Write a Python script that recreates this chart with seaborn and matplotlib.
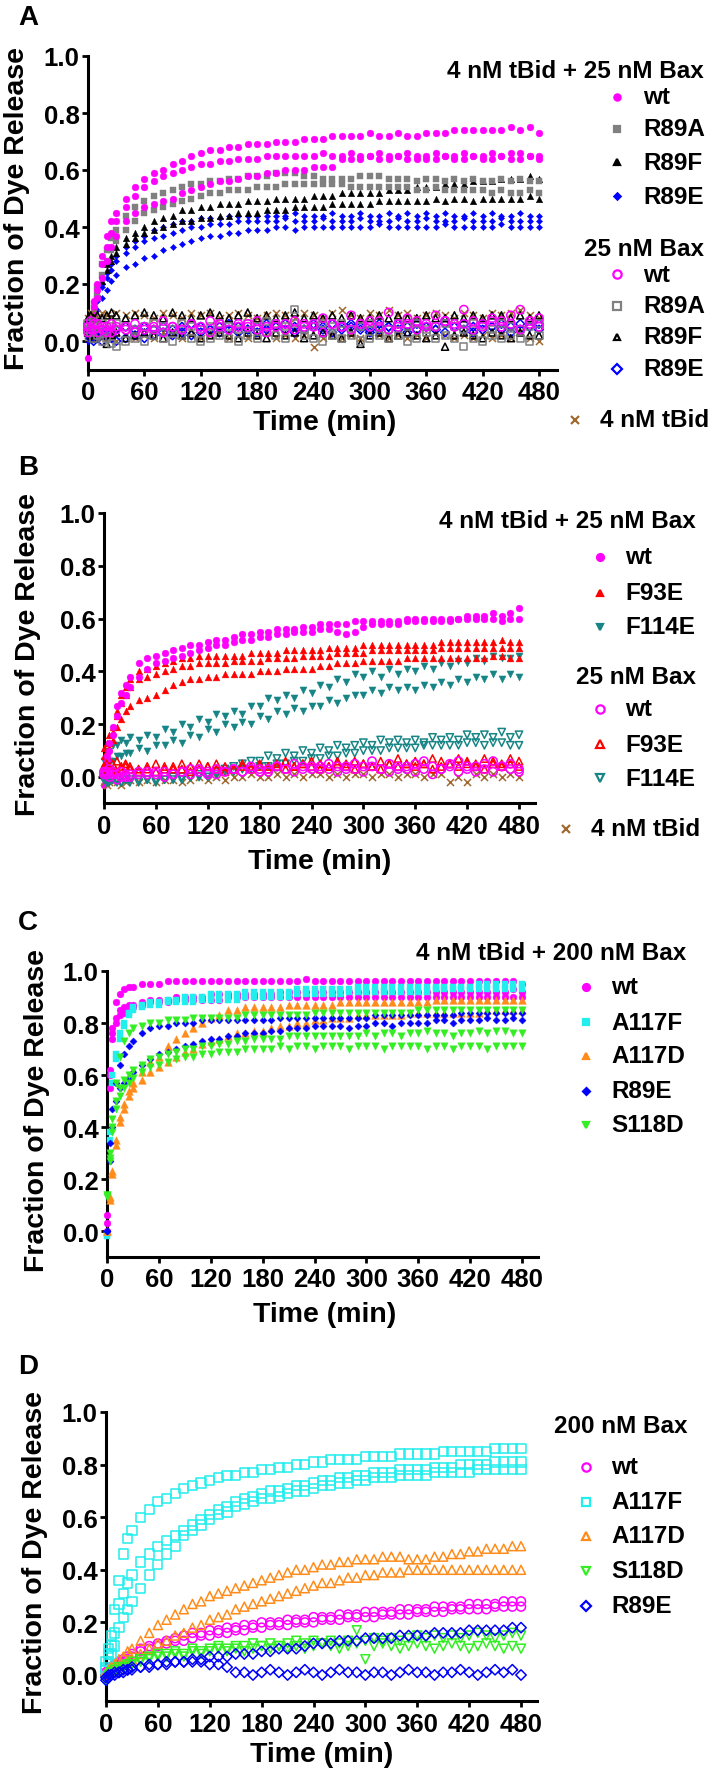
import matplotlib
matplotlib.use("Agg")
import matplotlib.pyplot as plt
from matplotlib.lines import Line2D
import seaborn as sns

sns.set_theme(style="ticks")
plt.rcParams["font.family"] = ["Liberation Sans", "DejaVu Sans"]
plt.rcParams["font.weight"] = "bold"
for k in ["text.color", "axes.labelcolor", "xtick.color", "ytick.color", "axes.edgecolor"]:
    plt.rcParams[k] = "black"

# sampling times (min), shared by every trace
time_min = [0, 3, 6, 10, 15, 20, 25, 30, 40, 50] + list(range(60, 481, 10))

# ---- panel A : 4 nM tBid + 25 nM Bax (values in % dye release) ----
A_wt_1 = [3, 8, 14, 20, 30, 37, 42, 45, 50, 54, 57, 59, 60, 62, 63, 65, 66, 67, 67, 68,
          68, 69, 69, 69, 70, 70, 70, 71, 71, 71, 72, 72, 72, 72, 73, 72, 72, 73, 72, 72,
          73, 73, 73, 74, 74, 74, 74, 74, 74, 75, 74, 75, 73]
A_wt_2 = [2, 6, 12, 18, 27, 33, 38, 42, 47, 51, 54, 56, 58, 59, 60, 61, 62, 62, 63, 63,
          64, 64, 64, 65, 65, 65, 65, 65, 65, 66, 65, 65, 66, 65, 65, 66, 65, 65, 66, 65,
          65, 66, 65, 65, 66, 65, 65, 66, 65, 66, 66, 65, 65]
A_wt_3 = [-6, 4, 9, 15, 22, 28, 33, 37, 42, 45, 47, 48, 49, 50, 52, 53, 54, 55, 56, 56,
          57, 58, 58, 59, 59, 60, 60, 60, 61, 61, 61, 64, 64, 64, 65, 64, 64, 65, 64, 64,
          64, 64, 65, 64, 64, 65, 64, 64, 65, 64, 64, 65, 64]
A_R89A_1 = [2, 7, 13, 19, 27, 32, 36, 39, 44, 47, 49, 51, 52, 53, 54, 55, 55, 56, 56, 57,
            57, 58, 58, 58, 59, 59, 59, 58, 58, 57, 57, 57, 57, 58, 58, 58, 57, 57, 57, 56,
            57, 57, 56, 57, 56, 57, 56, 56, 57, 56, 57, 56, 56]
A_R89A_2 = [1, 6, 11, 16, 23, 28, 32, 35, 39, 42, 45, 46, 47, 48, 49, 50, 51, 52, 52, 53,
            53, 53, 54, 54, 54, 55, 55, 55, 55, 55, 55, 55, 54, 54, 54, 54, 54, 54, 54, 53,
            53, 54, 53, 53, 53, 53, 53, 52, 53, 52, 52, 53, 52]
A_R89F_1 = [2, 6, 11, 17, 23, 27, 30, 33, 36, 38, 40, 42, 43, 44, 46, 46, 47, 47, 48, 48,
            48, 49, 49, 49, 50, 50, 50, 50, 51, 51, 51, 52, 52, 52, 52, 52, 53, 53, 53, 54,
            54, 54, 55, 55, 55, 56, 56, 56, 57, 57, 57, 58, 57]
A_R89F_2 = [1, 5, 10, 16, 21, 25, 28, 31, 34, 36, 38, 39, 40, 41, 42, 42, 43, 43, 44, 44,
            45, 45, 45, 46, 46, 46, 47, 47, 47, 47, 48, 48, 48, 48, 48, 49, 49, 49, 49, 49,
            49, 50, 49, 50, 50, 49, 50, 50, 50, 50, 50, 51, 50]
A_R89E_1 = [1, 5, 10, 15, 20, 24, 27, 30, 33, 35, 37, 39, 40, 41, 42, 42, 43, 43, 43, 44,
            44, 44, 44, 44, 44, 44, 45, 44, 44, 44, 45, 44, 44, 45, 44, 44, 45, 44, 45, 44,
            45, 44, 45, 44, 44, 45, 44, 45, 44, 44, 45, 44, 44]
A_R89E_2 = [0, 4, 9, 14, 19, 22, 25, 28, 31, 33, 35, 36, 37, 38, 39, 40, 40, 41, 41, 41,
            42, 42, 42, 42, 42, 43, 42, 42, 42, 43, 42, 42, 42, 43, 42, 42, 42, 43, 42, 42,
            43, 42, 42, 42, 43, 42, 42, 42, 43, 42, 42, 42, 42]
A_R89E_3 = [0, 3, 7, 11, 15, 18, 21, 23, 26, 27, 29, 30, 32, 33, 34, 35, 36, 37, 37, 38,
            38, 39, 39, 39, 40, 40, 39, 40, 40, 40, 40, 40, 40, 40, 40, 41, 40, 40, 40, 40,
            40, 40, 41, 40, 40, 40, 40, 40, 41, 40, 40, 40, 40]
# panel A : 25 nM Bax alone, and 4 nM tBid alone
A_bax_wt_1 = [5, 7, 4, 6, 5, 3, 6, 4, 5, 6, 4, 5, 7, 5, 4, 6, 5, 7, 6, 4,
              5, 6, 7, 5, 6, 4, 7, 5, 6, 8, 6, 5, 9, 6, 7, 5, 10, 6, 8, 7,
              5, 9, 7, 6, 11, 7, 6, 8, 7, 9, 11, 7, 8]
A_bax_wt_2 = [3, 4, 6, 3, 4, 5, 3, 5, 4, 3, 5, 4, 3, 5, 4, 6, 4, 3, 5, 4,
              6, 5, 4, 3, 5, 6, 4, 6, 5, 3, 6, 5, 4, 6, 5, 7, 4, 5, 6, 4,
              6, 5, 7, 5, 6, 4, 5, 7, 5, 6, 4, 6, 5]
A_bax_R89A_1 = [4, 3, 1, 2, 0, 1, -1, -2, 0, 1, 0, 2, 1, 0, 2, 1, 0, 1, 2, 1,
                0, 2, 1, 3, 2, 1, 11, 2, 1, 0, 2, 1, 2, 0, 1, 2, 1, 2, 0, 1,
                3, 1, 2, 1, -2, 1, 0, 2, 1, 2, 1, 0, 2]
A_bax_R89A_2 = [6, 5, 7, 5, 6, 4, 5, 6, 5, 4, 5, 6, 5, 4, 6, 5, 4, 5, 6, 5,
                4, 6, 5, 7, 6, 5, 6, 4, 5, 6, 5, 6, 4, 5, 6, 5, 4, 6, 5, 6,
                4, 5, 6, 5, 4, 6, 5, 4, 6, 5, 4, 5, 6]
A_bax_R89F_1 = [8, 9, 8, 9, 8, 9, 10, 9, 8, 9, 10, 9, 8, 10, 9, 8, 9, 10, 9, 8,
                9, 10, 8, 9, 8, 9, 10, 8, 9, 8, 9, 8, 9, 8, 8, 9, 8, 9, 8, 8,
                9, 8, 8, 9, 8, 9, 8, 9, 9, 8, 9, 8, 9]
A_bax_R89F_2 = [3, 2, 1, 3, 2, -1, 2, 3, 1, 2, 3, 2, 1, 3, 2, 3, 1, 2, 3, 2,
                1, 3, 2, 1, 3, 2, 3, 1, 2, 3, 2, 1, 3, -1, 2, 3, 1, 2, 3, 2,
                1, 2, -2, 2, 3, 2, 1, 3, 2, 1, 3, 2, 2]
A_bax_R89E_1 = [6, 1, 0, 1, 0, 2, 1, 0, 1, 2, 1, 2, 3, 2, 3, 2, 3, 4, 3, 4,
                3, 4, 3, 4, 5, 4, 3, 4, 5, 4, 3, 4, 5, 4, 3, 4, 5, 4, 3, 4,
                5, 4, 3, 5, 4, 3, 4, 5, 4, 3, 4, 5, 4]
A_bax_R89E_2 = [4, 3, 1, 2, 3, 4, 3, 4, 5, 4, 5, 4, 5, 4, 5, 6, 5, 4, 5, 6,
                5, 4, 5, 6, 5, 6, 5, 4, 6, 5, 6, 5, 6, 5, 4, 6, 5, 6, 5, 6,
                5, 4, 6, 5, 6, 5, 6, 5, 6, 5, 6, 5, 6]
A_tbid_1 = [8, 10, 9, 8, 10, 9, 8, 10, 9, 10, 9, 8, 10, 9, 8, 10, 9, 10, 8, 9,
            10, 9, 8, 9, 10, 9, 8, 10, 9, 8, 10, 11, 9, 8, 10, 9, 11, 9, 10, 8,
            9, 10, 9, 8, 10, 9, 8, 10, 9, 10, 11, 9, 8]
A_tbid_2 = [2, 1, 3, 2, 1, 2, 1, 0, 2, 1, 2, 1, 3, 2, 1, 2, 1, 2, 3, 1,
            2, 1, 2, 3, 1, 2, 1, 2, -2, 1, 2, 1, 2, 1, 3, 2, 1, 2, 1, 2,
            1, 3, 2, 1, 2, 1, 2, 1, 2, 1, 3, 1, 0]

# ---- panel B ----
B_wt_1 = [1, 8, 13, 19, 27, 32, 35, 38, 43, 45, 46, 47, 48, 49, 50, 50, 51, 52, 52, 53,
          54, 54, 55, 55, 56, 56, 56, 57, 57, 58, 58, 58, 58, 59, 59, 59, 59, 59, 59, 60,
          60, 60, 60, 60, 60, 60, 61, 61, 61, 62, 61, 62, 64]
B_wt_2 = [-3, 6, 10, 16, 23, 28, 31, 34, 38, 41, 43, 44, 45, 46, 47, 48, 49, 50, 50, 51,
          52, 52, 53, 53, 54, 54, 55, 55, 55, 56, 56, 55, 54, 55, 57, 58, 58, 58, 58, 59,
          59, 59, 59, 59, 59, 60, 60, 60, 60, 60, 59, 60, 60]
B_F93E_1 = [11, 13, 16, 19, 25, 31, 34, 37, 40, 41, 42, 43, 44, 45, 45, 46, 46, 46, 46, 46,
            46, 47, 47, 47, 47, 48, 48, 48, 48, 48, 49, 49, 49, 49, 50, 50, 50, 50, 50, 50,
            50, 50, 50, 51, 51, 51, 51, 51, 51, 51, 52, 51, 51]
B_F93E_2 = [8, 10, 13, 17, 23, 28, 31, 34, 37, 38, 39, 40, 41, 42, 42, 43, 43, 43, 43, 44,
            44, 44, 44, 45, 45, 45, 45, 46, 46, 46, 46, 47, 47, 47, 47, 48, 48, 48, 48, 48,
            48, 48, 48, 49, 49, 49, 49, 49, 49, 49, 49, 49, 49]
B_F93E_3 = [5, 8, 11, 14, 19, 22, 25, 27, 29, 30, 31, 33, 35, 36, 37, 37, 38, 38, 39, 39,
            39, 39, 40, 40, 40, 41, 41, 41, 41, 42, 42, 43, 43, 43, 44, 44, 44, 44, 44, 45,
            45, 45, 45, 45, 45, 45, 45, 45, 45, 46, 46, 45, 45]
B_F114E_1 = [6, 9, 10, 12, 12, 14, 13, 15, 14, 16, 15, 18, 17, 20, 19, 22, 21, 24, 23, 25,
             24, 27, 27, 30, 29, 31, 30, 33, 32, 35, 34, 37, 36, 39, 38, 40, 38, 41, 39, 41,
             40, 42, 41, 43, 42, 44, 43, 45, 44, 46, 45, 45, 46]
B_F114E_2 = [3, 4, 6, 6, 8, 8, 9, 9, 11, 10, 12, 12, 14, 13, 16, 15, 18, 17, 20, 19,
             21, 20, 23, 22, 25, 24, 26, 25, 27, 27, 29, 28, 30, 31, 31, 33, 32, 34, 33, 34,
             33, 35, 34, 36, 35, 37, 36, 38, 37, 39, 37, 39, 38]
B_bax_wt_1 = [2, 1, 3, 2, 1, 2, 0, 1, 2, 1, 2, 0, 1, 2, 3, 2, 1, 3, 2, 3,
              2, 4, 3, 2, 4, 3, 5, 3, 4, 3, 5, 4, 3, 5, 4, 6, 3, 5, 4, 3,
              5, 6, 4, 3, 5, 6, 4, 2, 5, 6, 4, 5, 3]
B_bax_wt_2 = [1, 2, 0, 1, -1, 0, 1, 0, 1, 2, 1, 2, 1, 2, 1, 3, 2, 1, 2, 3,
              2, 3, 2, 3, 4, 3, 2, 4, 3, 4, 3, 2, 4, 3, 2, 4, 3, 2, 3, 4,
              2, 3, 1, 3, 4, 2, 3, 4, 3, 2, 4, 3, 2]
B_bax_F93E_1 = [4, 5, 4, 5, 6, 4, 5, 4, 3, 4, 5, 4, 3, 5, 4, 5, 4, 5, 4, 3,
                5, 4, 5, 4, 5, 6, 4, 5, 6, 5, 4, 6, 5, 6, 5, 4, 6, 5, 7, 5,
                6, 5, 7, 6, 5, 7, 6, 5, 7, 6, 5, 7, 6]
B_bax_F93E_2 = [2, 3, 4, 3, 2, 3, 4, 3, 2, 3, 2, 3, 4, 3, 2, 3, 4, 3, 2, 3,
                4, 3, 4, 3, 4, 3, 4, 5, 4, 3, 4, 5, 4, 3, 5, 4, 3, 5, 4, 5,
                4, 5, 3, 4, 5, 4, 5, 4, 3, 5, 4, 5, 4]
B_bax_F114E_1 = [0, -1, 0, -1, -1, -2, -1, -1, -1, -1, -1, -1, 0, 0, 0, 1, 1, 2, 3, 4,
                 5, 6, 6, 8, 7, 9, 8, 10, 9, 11, 10, 12, 11, 12, 13, 12, 14, 13, 14, 13,
                 14, 13, 15, 14, 15, 14, 16, 15, 16, 15, 17, 15, 16]
B_bax_F114E_2 = [-1, -2, -2, -1, -2, -2, -1, -2, -2, -1, -2, -1, -1, -1, 0, 0, 0, 1, 2, 2,
                 3, 3, 4, 4, 5, 5, 6, 6, 7, 7, 8, 8, 9, 9, 10, 10, 10, 11, 11, 11,
                 11, 12, 12, 12, 12, 12, 13, 13, 12, 13, 13, 12, 12]
B_tbid = [-2, -3, -2, -1, -2, -3, -2, -1, -2, -1, -2, -1, -1, -2, -1, 0, -1, 0, -1, 0,
          0, 1, 0, 0, 1, 0, 1, 0, 1, 1, 0, 1, 0, 1, 1, 0, 1, 1, 0, 1,
          1, 0, 1, 1, -2, 0, -2, 1, 0, 1, 0, 1, 0]

# ---- panel C : 4 nM tBid + 200 nM Bax ----
C_wt_1 = [3, 62, 78, 88, 91, 93, 94, 94, 95, 95, 95, 96, 96, 96, 96, 96, 96, 96, 96, 96,
          96, 96, 96, 96, 96, 96, 96, 97, 96, 96, 96, 96, 96, 96, 96, 96, 96, 96, 96, 96,
          96, 96, 96, 96, 96, 96, 96, 96, 96, 96, 96, 96, 95]
C_wt_2 = [6, 60, 76, 82, 85, 86, 87, 87, 88, 89, 89, 89, 90, 90, 90, 90, 91, 91, 91, 91,
          91, 91, 91, 91, 92, 92, 92, 92, 92, 92, 92, 92, 92, 92, 92, 92, 92, 92, 92, 92,
          92, 92, 92, 92, 92, 92, 92, 92, 92, 92, 92, 93, 92]
C_wt_3 = [0, 55, 74, 80, 83, 84, 85, 86, 87, 88, 88, 88, 89, 89, 89, 89, 89, 89, 90, 90,
          90, 90, 90, 90, 90, 90, 90, 90, 90, 90, 90, 90, 90, 90, 90, 90, 90, 90, 90, 90,
          90, 90, 90, 90, 90, 90, 90, 90, 90, 90, 90, 90, 90]
C_A117F_1 = [-1, 38, 60, 68, 76, 80, 84, 86, 87, 88, 88, 89, 89, 90, 90, 90, 91, 91, 91, 91,
             92, 92, 92, 92, 92, 92, 93, 93, 93, 93, 93, 93, 93, 94, 94, 94, 94, 94, 94, 94,
             94, 94, 94, 94, 94, 94, 94, 95, 95, 95, 95, 95, 95]
C_A117F_2 = [-2, 35, 57, 66, 74, 79, 83, 85, 86, 87, 87, 88, 88, 88, 88, 89, 89, 89, 89, 89,
             90, 90, 90, 90, 90, 90, 91, 91, 91, 91, 91, 91, 92, 92, 92, 92, 92, 92, 92, 92,
             92, 92, 93, 93, 93, 93, 93, 93, 93, 93, 93, 93, 93]
C_A117D_1 = [0, 13, 23, 35, 44, 49, 54, 57, 61, 65, 67, 71, 74, 76, 78, 80, 82, 83, 85, 85,
             86, 86, 86, 86, 86, 87, 87, 87, 87, 87, 87, 88, 88, 88, 88, 88, 88, 88, 88, 88,
             88, 88, 89, 89, 89, 89, 89, 89, 89, 89, 89, 89, 89]
C_A117D_2 = [0, 12, 22, 33, 42, 47, 52, 55, 58, 61, 63, 65, 67, 69, 70, 72, 73, 74, 75, 76,
             76, 77, 77, 78, 79, 79, 80, 80, 81, 81, 82, 82, 82, 83, 83, 83, 83, 83, 83, 84,
             84, 84, 84, 84, 84, 84, 84, 84, 85, 85, 85, 85, 85]
C_R89E_1 = [0, 34, 47, 57, 64, 68, 71, 73, 76, 78, 79, 79, 80, 80, 80, 81, 81, 81, 81, 81,
            81, 81, 81, 81, 82, 82, 82, 82, 82, 82, 82, 82, 82, 82, 82, 83, 83, 83, 83, 83,
            83, 83, 83, 83, 83, 84, 84, 84, 84, 84, 84, 84, 84]
C_R89E_2 = [0, 27, 40, 50, 55, 57, 59, 61, 64, 66, 68, 69, 70, 71, 72, 73, 74, 74, 75, 75,
            76, 76, 76, 77, 77, 78, 78, 78, 79, 79, 79, 79, 78, 79, 79, 80, 80, 79, 80, 80,
            80, 80, 81, 81, 80, 81, 81, 81, 82, 81, 81, 82, 81]
C_S118D_1 = [14, 30, 43, 57, 67, 73, 76, 78, 79, 80, 80, 81, 81, 81, 82, 82, 82, 82, 82, 82,
             83, 83, 83, 83, 83, 83, 83, 83, 84, 84, 84, 84, 84, 84, 84, 84, 84, 84, 84, 84,
             85, 85, 85, 85, 85, 85, 85, 85, 85, 85, 85, 85, 85]
C_S118D_2 = [14, 28, 40, 50, 55, 58, 60, 62, 64, 66, 67, 68, 69, 70, 70, 71, 71, 72, 72, 73,
             73, 74, 74, 74, 74, 75, 75, 75, 75, 75, 75, 75, 75, 75, 76, 75, 76, 76, 75, 76,
             76, 77, 76, 76, 75, 76, 76, 77, 76, 77, 77, 76, 76]
C_S118D_3 = [13, 27, 38, 47, 52, 55, 57, 59, 61, 63, 64, 65, 66, 67, 67, 68, 68, 69, 69, 69,
             70, 70, 70, 70, 71, 70, 71, 71, 70, 71, 71, 71, 70, 71, 71, 71, 70, 71, 71, 71,
             71, 70, 71, 71, 70, 71, 71, 71, 70, 71, 71, 71, 71]

# ---- panel D : 200 nM Bax alone ----
D_wt_1 = [1, 2, 3, 4, 5, 6, 7, 8, 10, 11, 12, 13, 14, 15, 16, 16, 17, 17, 18, 18,
          19, 19, 20, 20, 20, 21, 21, 21, 22, 22, 22, 23, 23, 23, 24, 24, 24, 24, 25, 25,
          25, 25, 26, 26, 26, 26, 27, 27, 27, 27, 28, 28, 28]
D_wt_2 = [0, 1, 2, 3, 4, 5, 6, 7, 9, 10, 11, 12, 13, 13, 14, 15, 15, 16, 16, 17,
          17, 18, 18, 19, 19, 19, 20, 20, 20, 21, 21, 21, 22, 22, 22, 22, 23, 23, 23, 23,
          24, 24, 24, 24, 25, 25, 25, 25, 25, 26, 26, 26, 26]
D_A117F_1 = [5, 10, 15, 25, 36, 46, 52, 55, 60, 63, 66, 67, 69, 71, 72, 73, 74, 75, 76, 76,
             77, 77, 78, 78, 79, 79, 80, 80, 81, 81, 82, 82, 82, 82, 83, 83, 83, 83, 84, 84,
             84, 84, 84, 85, 85, 85, 85, 85, 85, 86, 86, 86, 86]
D_A117F_2 = [3, 8, 11, 16, 27, 31, 35, 38, 43, 46, 49, 51, 53, 55, 57, 59, 61, 63, 64, 66,
             67, 68, 69, 70, 70, 71, 72, 72, 73, 74, 74, 75, 75, 76, 76, 77, 77, 77, 78, 78,
             78, 78, 79, 79, 79, 80, 80, 80, 80, 81, 81, 81, 81]
D_A117F_3 = [2, 5, 8, 11, 18, 22, 25, 28, 33, 38, 42, 46, 49, 53, 55, 57, 59, 61, 62, 64,
             65, 66, 67, 67, 68, 69, 70, 70, 71, 72, 72, 73, 73, 74, 74, 75, 75, 75, 76, 76,
             76, 76, 77, 77, 77, 77, 77, 78, 78, 78, 78, 78, 78]
D_A117D_1 = [1, 2, 3, 4, 6, 7, 9, 10, 13, 16, 19, 21, 23, 25, 27, 28, 30, 31, 32, 33,
             34, 35, 36, 37, 38, 39, 40, 40, 41, 42, 42, 43, 43, 44, 44, 44, 45, 45, 45, 44,
             44, 44, 45, 45, 46, 46, 47, 47, 48, 48, 48, 49, 49]
D_A117D_2 = [0, 1, 1, 2, 3, 4, 5, 6, 8, 10, 12, 13, 15, 16, 18, 19, 21, 22, 23, 25,
             26, 27, 28, 29, 30, 31, 32, 33, 34, 35, 35, 36, 37, 37, 38, 38, 39, 39, 39, 40,
             40, 40, 40, 40, 40, 40, 40, 40, 40, 40, 40, 40, 40]
D_S118D_1 = [-2, 0, 1, 2, 3, 3, 4, 5, 6, 7, 8, 8, 9, 8, 10, 9, 10, 11, 10, 11,
             11, 12, 11, 12, 11, 12, 13, 12, 13, 12, 13, 12, 13, 17, 13, 14, 13, 14, 13, 14,
             15, 14, 15, 14, 15, 14, 15, 16, 15, 14, 15, 16, 15]
D_S118D_2 = [-2, 0, 1, 1, 2, 3, 4, 4, 5, 6, 7, 7, 8, 7, 9, 8, 9, 10, 9, 10,
             9, 10, 11, 10, 11, 10, 11, 10, 11, 12, 11, 10, 11, 12, 6, 11, 12, 11, 10, 11,
             12, 11, 10, 11, 12, 11, 10, 11, 12, 11, 10, 11, 10]
D_R89E_1 = [-1, 0, 0, 1, 1, 2, 2, 3, 3, 4, 4, 5, 5, 5, 6, 6, 7, 7, 7, 8,
            8, 8, 9, 9, 10, 10, 10, 11, 12, 12, 12, 13, 13, 13, 14, 14, 14, 14, 15, 15,
            15, 15, 16, 16, 16, 16, 17, 17, 17, 17, 17, 18, 18]
D_R89E_2 = [-2, -1, 0, 0, 1, 1, 2, 2, 3, 3, 4, 4, 5, 5, 5, 5, 4, 4, 3, 1,
            1, 0, 1, 2, 1, 0, 1, 2, 1, 0, 1, 2, 1, 1, 0, 1, 1, 0, 1, 2,
            1, 1, 0, 1, 1, 2, 1, 0, 1, 2, 1, 2, 0]

MAGENTA, GRAY, BLUE, BROWN = "#FF00FF", "#808080", "#0000FF", "#A0692F"
RED, TEAL, CYAN, ORANGE, GREEN = "#FF0000", "#178585", "#22EEEE", "#FF8C1A", "#33EE22"

TICK_FS, LAB_FS, KEY_FS, LETTER_FS = 18.5, 20.5, 17.5, 20

W, H = 709, 1774
fig = plt.figure(figsize=(W / 100, H / 100), dpi=100)


def fx(x):
    return x / W


def fy(y):
    return 1 - y / H


def make_axes(x0, x480, top, y0):
    # pixel positions of t=0, t=480, y=1.0 and y=0.0
    per_min = (x480 - x0) / 480
    right = x0 + 499 * per_min
    bottom = y0 + 0.1 * (y0 - top)
    ax = fig.add_axes([fx(x0), fy(bottom), (right - x0) / W, (bottom - top) / H])
    ax.set_xlim(0, 499)
    ax.set_ylim(-0.1, 1.0)
    sns.despine(ax=ax)
    ax.spines["left"].set_linewidth(2.2)
    ax.spines["bottom"].set_linewidth(2.2)
    ax.set_xticks(range(0, 481, 60))
    ax.set_yticks([0, 0.2, 0.4, 0.6, 0.8, 1.0])
    ax.set_yticklabels(["0.0", "0.2", "0.4", "0.6", "0.8", "1.0"])
    ax.tick_params(axis="both", width=2, length=4.5, labelsize=TICK_FS, pad=1.5)
    ax.tick_params(axis="x", pad=3)
    ax.set_xlabel("")
    ax.set_ylabel("")
    return ax


def draw(ax, vals, color, marker, filled=True, s=20, lw=1.1):
    y = [v / 100 for v in vals]
    if marker == "x":
        sns.scatterplot(x=time_min, y=y, ax=ax, marker="x", color=color, s=s,
                        linewidth=lw, clip_on=False, zorder=3)
    elif filled:
        sns.scatterplot(x=time_min, y=y, ax=ax, marker=marker, color=color,
                        edgecolor=color, s=s, linewidth=0.3, clip_on=False, zorder=3)
    else:
        sns.scatterplot(x=time_min, y=y, ax=ax, marker=marker, color=color,
                        facecolor="none", edgecolor=color, s=s, linewidth=lw,
                        clip_on=False, zorder=3)


def key(x, y, marker, color, filled, ms, label, tx):
    fig.add_artist(Line2D([fx(x)], [fy(y)], transform=fig.transFigure, marker=marker,
                          markersize=ms, color=color, mfc=color if filled else "none",
                          mec=color, mew=1.6, linestyle="none"))
    fig.text(fx(tx), fy(y), label, ha="left", va="center", fontsize=KEY_FS, fontweight="bold")


def header(xr, y, label):
    fig.text(fx(xr), fy(y), label, ha="right", va="center", fontsize=KEY_FS, fontweight="bold")


def labels(letter, ly, ylab_x, ylab_y, xlab_x, xlab_y):
    fig.text(fx(18), fy(ly), letter, ha="left", va="center", fontsize=LETTER_FS, fontweight="bold")
    fig.text(fx(ylab_x), fy(ylab_y), "Fraction of Dye Release", rotation=90,
             ha="center", va="center", fontsize=LAB_FS, fontweight="bold")
    fig.text(fx(xlab_x), fy(xlab_y), "Time (min)", ha="center", va="center",
             fontsize=LAB_FS, fontweight="bold")


# ---------------- panel A ----------------
axA = make_axes(88, 539, 57, 342)
for v in (A_R89E_1, A_R89E_2, A_R89E_3):
    draw(axA, v, BLUE, "D", s=10)
for v in (A_R89F_1, A_R89F_2):
    draw(axA, v, "black", "^", s=22)
for v in (A_R89A_1, A_R89A_2):
    draw(axA, v, GRAY, "s", s=22)
for v in (A_wt_1, A_wt_2, A_wt_3):
    draw(axA, v, MAGENTA, "o", s=24)
for v in (A_tbid_1, A_tbid_2):
    draw(axA, v, BROWN, "x", s=26)
for v in (A_bax_R89E_1, A_bax_R89E_2):
    draw(axA, v, BLUE, "D", filled=False, s=20)
for v in (A_bax_R89F_1, A_bax_R89F_2):
    draw(axA, v, "black", "^", filled=False, s=26)
for v in (A_bax_R89A_1, A_bax_R89A_2):
    draw(axA, v, GRAY, "s", filled=False, s=26)
for v in (A_bax_wt_1, A_bax_wt_2):
    draw(axA, v, MAGENTA, "o", filled=False, s=36)

header(704, 72, "4 nM tBid + 25 nM Bax")
key(617, 98, "o", MAGENTA, True, 4.5, "wt", 643)
key(617, 130, "s", GRAY, True, 4.5, "R89A", 643)
key(617, 163, "^", "black", True, 4.5, "R89F", 643)
key(617, 197, "D", BLUE, True, 3.2, "R89E", 643)
header(704, 249, "25 nM Bax")
key(617, 275, "o", MAGENTA, False, 6, "wt", 643)
key(617, 307, "s", GRAY, False, 5.5, "R89A", 643)
key(617, 338, "^", "black", False, 5, "R89F", 643)
key(617, 370, "D", BLUE, False, 5, "R89E", 643)
key(575, 421, "x", BROWN, False, 6, "4 nM tBid", 600)
labels("A", 18, 17, 209, 325, 423)

# ---------------- panel B ----------------
axB = make_axes(104, 519, 514, 778)
for v in (B_F114E_1, B_F114E_2):
    draw(axB, v, TEAL, "v", s=26)
for v in (B_F93E_1, B_F93E_2, B_F93E_3):
    draw(axB, v, RED, "^", s=24)
for v in (B_wt_1, B_wt_2):
    draw(axB, v, MAGENTA, "o", s=24)
draw(axB, B_tbid, BROWN, "x", s=26)
for v in (B_bax_F114E_1, B_bax_F114E_2):
    draw(axB, v, TEAL, "v", filled=False, s=28)
for v in (B_bax_F93E_1, B_bax_F93E_2):
    draw(axB, v, RED, "^", filled=False, s=28)
for v in (B_bax_wt_1, B_bax_wt_2):
    draw(axB, v, MAGENTA, "o", filled=False, s=36)

header(696, 522, "4 nM tBid + 25 nM Bax")
key(600, 558, "o", MAGENTA, True, 5, "wt", 625)
key(600, 594, "^", RED, True, 5, "F93E", 625)
key(600, 628, "v", TEAL, True, 5, "F114E", 625)
header(696, 678, "25 nM Bax")
key(600, 710, "o", MAGENTA, False, 6, "wt", 625)
key(600, 745, "^", RED, False, 6, "F93E", 625)
key(600, 779, "v", TEAL, False, 6, "F114E", 625)
key(566, 830, "x", BROWN, False, 6, "4 nM tBid", 591)
labels("B", 468, 28, 655, 320, 862)

# ---------------- panel C ----------------
axC = make_axes(107, 522, 972, 1232)
for v in (C_wt_1, C_wt_2, C_wt_3):
    draw(axC, v, MAGENTA, "o", s=24)
for v in (C_A117F_1, C_A117F_2):
    draw(axC, v, CYAN, "s", s=24)
for v in (C_A117D_1, C_A117D_2):
    draw(axC, v, ORANGE, "^", s=30)
for v in (C_R89E_1, C_R89E_2):
    draw(axC, v, BLUE, "D", s=13)
for v in (C_S118D_1, C_S118D_2, C_S118D_3):
    draw(axC, v, GREEN, "v", s=28)

header(686, 954, "4 nM tBid + 200 nM Bax")
key(586, 988, "o", MAGENTA, True, 5, "wt", 611)
key(586, 1023, "s", CYAN, True, 5, "A117F", 611)
key(586, 1057, "^", ORANGE, True, 5, "A117D", 611)
key(586, 1092, "D", BLUE, True, 3.5, "R89E", 611)
key(586, 1126, "v", GREEN, True, 5, "S118D", 611)
labels("C", 923, 37, 1111, 325, 1315)

# ---------------- panel D ----------------
axD = make_axes(106, 521, 1413, 1676)
for v in (D_wt_1, D_wt_2):
    draw(axD, v, MAGENTA, "o", filled=False, s=42)
for v in (D_A117F_1, D_A117F_2, D_A117F_3):
    draw(axD, v, CYAN, "s", filled=False, s=44)
for v in (D_A117D_1, D_A117D_2):
    draw(axD, v, ORANGE, "^", filled=False, s=42)
for v in (D_S118D_1, D_S118D_2):
    draw(axD, v, GREEN, "v", filled=False, s=42)
for v in (D_R89E_1, D_R89E_2):
    draw(axD, v, BLUE, "D", filled=False, s=28)

header(687, 1427, "200 nM Bax")
key(586, 1468, "o", MAGENTA, False, 6, "wt", 611)
key(586, 1503, "s", CYAN, False, 6, "A117F", 611)
key(586, 1537, "^", ORANGE, False, 6, "A117D", 611)
key(586, 1572, "v", GREEN, False, 6, "S118D", 611)
key(586, 1607, "D", BLUE, False, 5, "R89E", 611)
labels("D", 1367, 35, 1553, 322, 1755)

fig.savefig("out.png", dpi=100)
